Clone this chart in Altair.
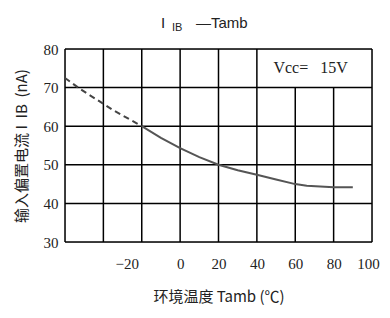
import altair as alt
import pandas as pd

# dashed (extrapolated) part of the curve
dash_t = [-60, -52, -35, -20]
dash_ib = [72.5, 69.6, 64.2, 60.0]
# solid part of the curve
solid_t = [-20, -10, 0, 10, 20, 30, 40, 50, 60, 66, 80, 90]
solid_ib = [60.0, 57.0, 54.3, 52.0, 50.0, 48.6, 47.4, 46.2, 45.0, 44.6, 44.2, 44.2]

x_tick_labels = [-20, 0, 20, 40, 60, 80, 100]
y_ticks = [30, 40, 50, 60, 70, 80]
# grid / frame lines (the top row is left open at 60 and 80 for the Vcc note)
vgrid_x = [-60, -40, -20, 0, 20, 40, 60, 80, 100]
vgrid_top = [80, 80, 80, 80, 80, 80, 70, 70, 80]
hgrid_y = [30, 40, 50, 60, 70, 80]

xs = alt.Scale(domain=[-60, 100], nice=False)
ys = alt.Scale(domain=[30, 80], nice=False)

x_axis = alt.Axis(
    values=x_tick_labels, ticks=False, domain=False, grid=False, labelOverlap=False,
    labelFlush=False, labelBound=False,
    labelFont="Liberation Serif", labelFontSize=15, labelColor="#222",
    labelPadding=14,
    labelOffset={"condition": [{"test": "datum.value == -20", "value": -15},
                               {"test": "datum.value == 100", "value": -4}], "value": 0},
    title="环境温度 Tamb (℃)", titleFont="Noto Sans CJK SC", titleFontSize=15,
    titleFontWeight="normal", titleColor="#222", titlePadding=18,
)
y_axis = alt.Axis(
    values=y_ticks, ticks=False, domain=False, grid=False, labelOverlap=False,
    labelFlush=False, labelBound=False,
    labelFont="Liberation Serif", labelFontSize=15, labelColor="#222",
    labelPadding=7,
    title="输入偏置电流 I\u00a0\u00a0IB\u00a0\u00a0(nA)", titleFont="Noto Sans CJK SC", titleFontSize=15,
    titleFontWeight="normal", titleColor="#222", titlePadding=14,
)

dash_df = pd.DataFrame({"t": dash_t, "ib": dash_ib})
solid_df = pd.DataFrame({"t": solid_t, "ib": solid_ib})
vg_df = pd.DataFrame({"t": vgrid_x, "ib": [30] * len(vgrid_x), "y1": vgrid_top})
hg_df = pd.DataFrame({"ib": hgrid_y})

X = alt.X("t:Q", scale=xs, axis=x_axis)
Y = alt.Y("ib:Q", scale=ys, axis=y_axis)

vgrid = alt.Chart(vg_df).mark_rule(color="black", strokeWidth=1.5).encode(x=X, y=Y, y2="y1:Q")
hgrid = alt.Chart(hg_df).mark_rule(color="black", strokeWidth=1.5).encode(y=Y)

dash_line = alt.Chart(dash_df).mark_line(color="#444", strokeWidth=2, strokeDash=[6, 4]).encode(x=X, y=Y)
solid_line = alt.Chart(solid_df).mark_line(color="#555", strokeWidth=2).encode(x=X, y=Y)

vcc = alt.Chart(pd.DataFrame({"t": [68], "ib": [75], "s": ["Vcc=\u00a0\u00a0\u00a015V"]})).mark_text(
    font="Liberation Serif", fontSize=16, color="#222", align="center", baseline="middle"
).encode(x=X, y=Y, text="s:N")

t1 = alt.Chart(pd.DataFrame({"s": ["I"]})).mark_text(
    font="Liberation Sans", fontSize=15, align="left", baseline="alphabetic", color="#222"
).encode(x=alt.value(96), y=alt.value(-21), text="s:N")
t2 = alt.Chart(pd.DataFrame({"s": ["IB"]})).mark_text(
    font="Liberation Sans", fontSize=11, align="left", baseline="alphabetic", color="#222"
).encode(x=alt.value(107), y=alt.value(-18), text="s:N")
t3 = alt.Chart(pd.DataFrame({"s": ["—Tamb"]})).mark_text(
    font="Liberation Sans", fontSize=15, align="left", baseline="alphabetic", color="#222"
).encode(x=alt.value(131), y=alt.value(-21), text="s:N")

chart = alt.layer(hgrid, vgrid, dash_line, solid_line, vcc, t1, t2, t3).properties(
    width=307, height=193,
    autosize=alt.AutoSizeParams(type="none"),
    padding={"left": 57, "top": 41, "right": 10, "bottom": 66},
).configure_view(stroke=None).configure(background="white")

chart.save("out.html", embed_options={"renderer": "svg", "actions": False})
